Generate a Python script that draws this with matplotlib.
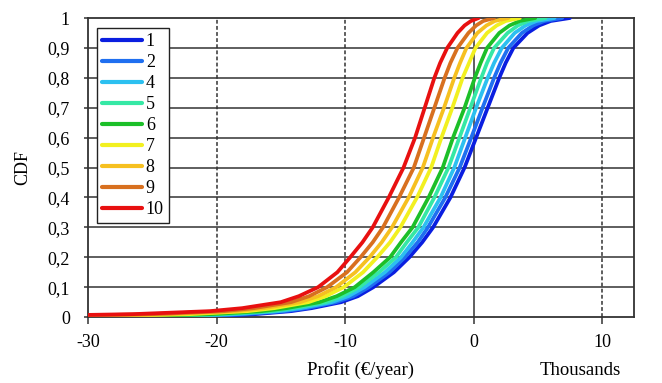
import matplotlib.pyplot as plt
from matplotlib.ticker import FuncFormatter

plt.rcParams['font.family'] = ['Liberation Serif', 'DejaVu Serif']
plt.rcParams['axes.unicode_minus'] = False

# CDF levels and the profit (thousand €/year) at which each curve reaches them
cdf = [0.003, 0.01, 0.02, 0.03, 0.05, 0.07, 0.1, 0.15, 0.2, 0.25, 0.3,
       0.4, 0.5, 0.6, 0.7, 0.8, 0.85, 0.9, 0.95, 0.975, 0.99, 1.0]

profit_1 = [-20.5, -17.0, -14.2, -12.6, -10.3, -9.0, -7.8, -6.2, -5.0, -4.0, -3.15,
            -1.8, -0.7, 0.2, 1.1, 2.0, 2.5, 3.1, 4.2, 5.1, 6.0, 7.5]
profit_2 = [-21.7, -17.75, -14.7, -13.0, -10.7, -9.35, -8.15, -6.55, -5.35, -4.35, -3.55,
            -2.2, -1.08, -0.18, 0.7, 1.6, 2.1, 2.7, 3.76, 4.64, 5.5, 6.9]
profit_4 = [-23.0, -18.5, -15.2, -13.45, -11.05, -9.75, -8.5, -6.9, -5.65, -4.75, -3.9,
            -2.57, -1.5, -0.65, 0.2, 1.1, 1.6, 2.2, 3.2, 4.05, 4.9, 6.3]
profit_5 = [-24.5, -19.5, -15.85, -14.0, -11.5, -10.2, -8.9, -7.35, -6.05, -5.2, -4.3,
            -3.05, -1.95, -1.1, -0.25, 0.6, 1.05, 1.6, 2.65, 3.45, 4.25, 5.6]
profit_6 = [-26.1, -20.4, -16.5, -14.55, -12.0, -10.65, -9.25, -7.8, -6.5, -5.65, -4.75,
            -3.5, -2.4, -1.6, -0.7, 0.1, 0.55, 1.05, 2.0, 2.8, 3.6, 4.8]
profit_7 = [-28.9, -22.1, -17.6, -15.5, -12.85, -11.5, -10.1, -8.6, -7.5, -6.5, -5.7,
            -4.4, -3.3, -2.5, -1.65, -0.85, -0.35, 0.15, 1.05, 1.8, 2.5, 3.6]
profit_8 = [-31.0, -23.5, -18.5, -16.3, -13.5, -12.1, -10.7, -9.2, -8.1, -7.15, -6.35,
            -5.05, -3.95, -3.15, -2.3, -1.5, -1.05, -0.55, 0.3, 1.0, 1.65, 2.7]
profit_9 = [-33.4, -24.9, -19.4, -17.1, -14.2, -12.8, -11.4, -9.85, -8.8, -7.85, -7.05,
            -5.8, -4.65, -3.85, -3.05, -2.25, -1.8, -1.25, -0.4, 0.2, 0.75, 1.6]
profit_10 = [-36.0, -26.5, -20.5, -18.0, -15.0, -13.6, -12.1, -10.6, -9.6, -8.65, -7.85,
             -6.6, -5.45, -4.55, -3.8, -3.05, -2.6, -2.05, -1.25, -0.7, -0.2, 0.4]

labels = ['1', '2', '4', '5', '6', '7', '8', '9', '10']
series = [profit_1, profit_2, profit_4, profit_5, profit_6, profit_7,
          profit_8, profit_9, profit_10]
colors = ['#0a1ee0', '#1f6ff0', '#2cc0f0', '#35e8a5', '#1cbf28',
          '#f2f020', '#f6c020', '#d8701f', '#e81010']

x_ticks = [-30, -20, -10, 0, 10]
y_ticks = [0, 0.1, 0.2, 0.3, 0.4, 0.5, 0.6, 0.7, 0.8, 0.9, 1]

fig = plt.figure(figsize=(6.62, 3.83), dpi=100)
ax = fig.add_axes([0.133, 0.172, 0.825, 0.781])

grid_col = '#333333'
for y in y_ticks[1:-1]:
    ax.axhline(y, color=grid_col, lw=1.1, zorder=1)
for x in [-20, -10, 10]:
    ax.axvline(x, color=grid_col, lw=1.1, ls=(0, (2.5, 1.5)), zorder=1)
# vertical axis crossing at zero
ax.axvline(0, color=grid_col, lw=1.1, zorder=1)

for vals, lab, col in zip(series, labels, colors):
    ax.plot(vals, cdf, color=col, lw=2.7, label=lab, zorder=3,
            solid_capstyle='round', solid_joinstyle='round')

ax.set_xlim(-30, 12.5)
ax.set_ylim(0, 1)
ax.set_xticks(x_ticks)
ax.set_yticks(y_ticks)
ax.yaxis.set_major_formatter(FuncFormatter(
    lambda v, p: '0' if v == 0 else ('1' if v == 1 else f'{v:.1f}'.replace('.', ','))))
ax.tick_params(axis='x', length=5, width=1.1, color=grid_col, labelsize=13, pad=7)
ax.tick_params(axis='y', length=3, width=1.1, color=grid_col, labelsize=13, pad=10)
for s in ax.spines.values():
    s.set_color(grid_col)
    s.set_linewidth(1.3)

ax.set_ylabel('CDF', fontsize=13, labelpad=12)
fig.text(0.545, 0.02, 'Profit (€/year)', fontsize=13.5, ha='center')
fig.text(0.877, 0.02, 'Thousands', fontsize=13.5, ha='center')

leg = ax.legend(loc='upper left', bbox_to_anchor=(0.0165, 0.967), fontsize=13,
                handlelength=2.2, handletextpad=0.2, labelspacing=0.22,
                borderpad=0.3, borderaxespad=0.0, fancybox=False,
                framealpha=1)
leg.get_frame().set_edgecolor('#222222')
leg.get_frame().set_linewidth(1.0)
for line in leg.get_lines():
    line.set_linewidth(3.0)

fig.savefig('out.png', dpi=100)
